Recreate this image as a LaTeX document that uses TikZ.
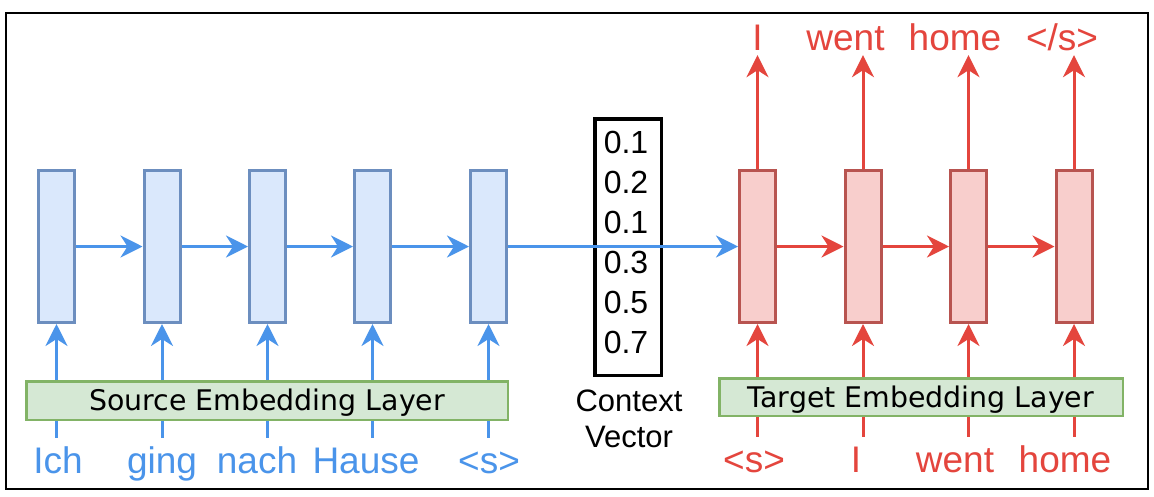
\documentclass[tikz,border=0pt]{standalone}
\usepackage{fontspec}
\setmainfont{Liberation Sans}
\newfontfamily\embfont{DejaVu Sans}
\usetikzlibrary{arrows.meta}
\definecolor{bfill}{HTML}{DAE8FC}
\definecolor{bstroke}{HTML}{6C8EBF}
\definecolor{rfill}{HTML}{F8CECC}
\definecolor{rstroke}{HTML}{B85450}
\definecolor{gfill}{HTML}{D5E8D4}
\definecolor{gstroke}{HTML}{82B366}
\definecolor{bline}{HTML}{4A94EA}
\definecolor{rline}{HTML}{E4453D}
\tikzset{
  srcbox/.style={draw=bstroke, fill=bfill, line width=3pt, minimum width=36pt, minimum height=152pt, inner sep=0pt},
  tgtbox/.style={draw=rstroke, fill=rfill, line width=3pt, minimum width=36pt, minimum height=152pt, inner sep=0pt},
  embbox/.style={draw=gstroke, fill=gfill, line width=2.5pt, inner sep=0pt, font=\embfont\fontsize{28.4}{30}\selectfont, text height=20.7pt, text depth=0pt},
  tip/.style={-{Stealth[length=22pt,width=22pt,inset=7pt]}},
  barrow/.style={draw=bline, line width=3pt, tip},
  rarrow/.style={draw=rline, line width=3pt, tip},
  bplain/.style={draw=bline, line width=3pt},
  rplain/.style={draw=rline, line width=3pt},
  inword/.style={anchor=base, font=\fontsize{37}{40}\selectfont, text height=27pt, text depth=8pt, inner xsep=0pt, inner ysep=8pt},
  outword/.style={anchor=base, font=\fontsize{37}{40}\selectfont, text depth=0pt, inner xsep=0pt, inner ysep=5pt, text=rline},
  num/.style={anchor=base, font=\fontsize{32}{36}\selectfont, inner sep=0pt},
  ctxbox/.style={draw=black, line width=3.5pt, minimum width=66.5pt, minimum height=256.5pt, inner sep=0pt}
}
\begin{document}
\begin{tikzpicture}[x=1pt,y=-1pt]
\useasboundingbox (0,0) rectangle (1154,496);
\fill[white] (0,0) rectangle (1154,496);
\draw[line width=2pt] (6,13) rectangle (1148,489);

% source side
\node[srcbox] (s1) at (56.5,246.5) {};
\node[srcbox] (s2) at (162,246.5) {};
\node[srcbox] (s3) at (267.5,246.5) {};
\node[srcbox] (s4) at (372.5,246.5) {};
\node[srcbox] (s5) at (488.5,246.5) {};
\node[embbox, minimum width=481.5pt, minimum height=38.5pt] (semb) at (267,400.5) {Source Embedding Layer};
\node[inword, text=bline] (w1) at (58,473) {Ich};
\node[inword, text=bline] (w2) at (162,473) {ging};
\node[inword, text=bline] (w3) at (257,473) {nach};
\node[inword, text=bline] (w4) at (366,473) {Hause};
\node[inword, text=bline] (w5) at (489,473) {<s>};

% target side
\node[tgtbox] (t1) at (757.5,246.5) {};
\node[tgtbox] (t2) at (863,246.5) {};
\node[tgtbox] (t3) at (968.5,246.5) {};
\node[tgtbox] (t4) at (1074,246.5) {};
\node[embbox, minimum width=403.5pt, minimum height=37.5pt] (temb) at (921,397) {Target Embedding Layer};
\node[inword, text=rline] (x1) at (754,472) {<s>};
\node[inword, text=rline] (x2) at (856,472) {I};
\node[inword, text=rline] (x3) at (955,472) {went};
\node[inword, text=rline] (x4) at (1065,472) {home};
\node[outword] (o1) at (757.5,50) {I};
\node[outword] (o2) at (845.5,50) {went};
\node[outword] (o3) at (955,50) {home};
\node[outword] (o4) at (1062,50) {</s>};

% context vector
\node[ctxbox] (ctx) at (628,247) {};
\node[num] (v1) at (626,153) {0.1};
\node[num] (v2) at (626,193) {0.2};
\node[num] (v3) at (626,233) {0.1};
\node[num] (v4) at (626,273) {0.3};
\node[num] (v5) at (626,313) {0.5};
\node[num] (v6) at (626,353) {0.7};
\node[anchor=north, align=center, inner sep=0pt, font=\fontsize{31}{36}\selectfont] (cl) at (629,389.5) {Context\\Vector};

% source recurrent arrows
\draw[barrow] (s1.east) -- (s2.west);
\draw[barrow] (s2.east) -- (s3.west);
\draw[barrow] (s3.east) -- (s4.west);
\draw[barrow] (s4.east) -- (s5.west);
\draw[barrow] (s5.east) -- (t1.west);
% target recurrent arrows
\draw[rarrow] (t1.east) -- (t2.west);
\draw[rarrow] (t2.east) -- (t3.west);
\draw[rarrow] (t3.east) -- (t4.west);

% source vertical
\foreach \i in {1,...,5}{
  \draw[barrow] (s\i.south |- semb.north) -- (s\i.south);
  \draw[bplain] (s\i.south |- w\i.north) -- (s\i.south |- semb.south);
}
% target vertical
\foreach \i in {1,...,4}{
  \draw[rarrow] (t\i.south |- temb.north) -- (t\i.south);
  \draw[rplain] (t\i.south |- x\i.north) -- (t\i.south |- temb.south);
  \draw[rarrow] (t\i.north) -- (t\i.north |- o\i.south);
}
\end{tikzpicture}
\end{document}
